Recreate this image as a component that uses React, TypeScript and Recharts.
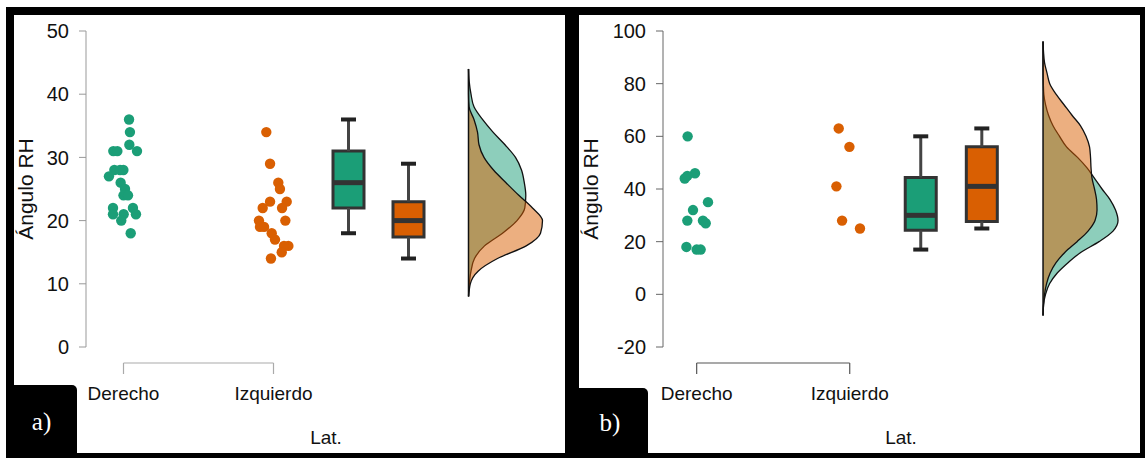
import React from 'react';
import {
  ComposedChart,
  Scatter,
  Area,
  XAxis,
  YAxis,
  ReferenceArea,
  ReferenceLine,
  Label,
} from 'recharts';

const categories = ['Derecho', 'Izquierdo'];
const GREEN = '#1b9e77';
const ORANGE = '#d95f02';

// ---- panel a) ----
const aYTicks = [0, 10, 20, 30, 40, 50];
const aDerechoValues = [36, 34, 32, 31, 31, 31, 28, 28, 28, 27, 26, 25, 24, 24, 22, 22, 21, 21, 21, 20, 18];
const aDerechoJitter = [0.037, 0.043, 0.039, 0.09, -0.068, -0.041, -0.061, -0.023, -0.001, -0.097, -0.019, 0.01, 0.0, 0.03, -0.07, 0.063, -0.07, 0.083, 0.001, -0.015, 0.048];
const aIzquierdoValues = [34, 29, 26, 25, 23, 23, 22, 22, 20, 20, 19, 19, 18, 17, 16, 16, 15, 14];
const aIzquierdoJitter = [-0.048, -0.023, 0.032, 0.043, -0.023, 0.088, -0.072, 0.057, 0.079, -0.097, -0.09, -0.063, -0.012, 0.01, 0.099, 0.07, 0.055, -0.017];
const aDerechoBox = { min: 18, q1: 22, median: 26, q3: 31, max: 36 };
const aIzquierdoBox = { min: 14, q1: 17.4, median: 20, q3: 23, max: 29 };
const aDensityGrid = [8, 10, 12, 14, 16, 18, 20, 22, 24, 26, 28, 30, 32, 34, 36, 38, 40, 42, 44];
const aDerechoDensity = [0, 0.8, 2.5, 6, 16, 34, 48.5, 56.3, 57.3, 55.8, 53, 47, 36.5, 24.5, 14, 5.5, 2.5, 0.7, 0];
const aIzquierdoDensity = [0.2, 1.8, 9.6, 29, 57.7, 72, 74, 64, 50.3, 37.5, 25, 15.5, 10.5, 9, 5.5, 0.6, 0, 0, 0];

// ---- panel b) ----
const bYTicks = [-20, 0, 20, 40, 60, 80, 100];
const bDerechoValues = [60, 46, 45, 44, 35, 32, 28, 28, 27, 18, 17, 17];
const bDerechoJitter = [-0.059, -0.011, -0.061, -0.078, 0.074, -0.024, -0.061, 0.041, 0.059, -0.067, 0.0, 0.026];
const bIzquierdoValues = [63, 56, 41, 28, 25];
const bIzquierdoJitter = [-0.072, -0.002, -0.087, -0.05, 0.067];
const bDerechoBox = { min: 17, q1: 24.3, median: 30, q3: 44.4, max: 60 };
const bIzquierdoBox = { min: 25, q1: 27.7, median: 41, q3: 56, max: 63 };
const bDensityGrid = [-8, -4, 0, 4, 8, 12, 16, 20, 24, 28, 32, 36, 40, 44, 48, 52, 56, 60, 64, 68, 72, 76, 80, 84, 88, 92, 96];
const bDerechoDensity = [0, 0.5, 2.5, 6.5, 14, 25, 38, 56, 70, 75, 72.5, 67, 59, 51.5, 44, 34.5, 23.5, 16.5, 10, 5.5, 2.5, 0.8, 0.3, 0.1, 0, 0, 0];
const bIzquierdoDensity = [0, 0.5, 1.5, 3.5, 7, 13, 22, 34, 45, 52, 54, 53.5, 51.5, 49, 48, 47.5, 46.5, 43, 37.5, 29, 21, 13, 6.7, 4, 1.5, 0.5, 0];

type Box = { min: number; q1: number; median: number; q3: number; max: number };

const CHART_H = 458;
const PLOT_TOP = 31;
const PLOT_BOTTOM = 347;
const X_AXIS_H = 106;
const MARGIN = { top: PLOT_TOP, right: 6, bottom: CHART_H - PLOT_BOTTOM - X_AXIS_H, left: 0 };
const FONT = '"Liberation Sans", Arial, sans-serif';

interface PanelProps {
  left: number;
  width: number;
  yAxisWidth: number;
  yDomain: [number, number];
  yTicks: number[];
  xDomain: [number, number];
  axisColor: string;
  bracketColor: string;
  titleOffset: number;
  derecho: { values: number[]; jitter: number[] };
  izquierdo: { values: number[]; jitter: number[] };
  boxes: Box[];
  boxPos: number[];
  densityPos: number;
  densityGrid: number[];
  derechoDensity: number[];
  izquierdoDensity: number[];
}

const dot = (color: string) => (props: any) =>
  <circle cx={props.cx} cy={props.cy} r={5.2} fill={color} />;

const Panel: React.FC<PanelProps> = (p) => {
  const plotWidth = p.width - p.yAxisWidth - MARGIN.right;
  const pxX = plotWidth / (p.xDomain[1] - p.xDomain[0]);
  const pxY = (PLOT_BOTTOM - PLOT_TOP) / (p.yDomain[1] - p.yDomain[0]);
  const boxHalf = 15.5 / pxX;
  const capHalf = 7.5 / pxX;
  const bracketY = p.yDomain[0] - 16 / pxY;
  const bracketEnd = p.yDomain[0] - 27 / pxY;

  const rows = p.densityGrid.map((v, i) => ({
    v,
    der: p.derechoDensity[i],
    izq: p.izquierdoDensity[i],
  }));
  const derPts = p.derecho.values.map((v, i) => ({ x: 1 + p.derecho.jitter[i], v }));
  const izqPts = p.izquierdo.values.map((v, i) => ({ x: 2 + p.izquierdo.jitter[i], v }));
  const colors = [GREEN, ORANGE];

  return (
    <div style={{ position: 'absolute', left: p.left, top: 0 }}>
      <ComposedChart
        width={p.width}
        height={CHART_H}
        data={rows}
        layout="vertical"
        margin={MARGIN}
      >
        <XAxis
          type="number"
          dataKey="x"
          domain={p.xDomain}
          ticks={[1, 2]}
          interval={0}
          tickFormatter={(t) => categories[Math.round(t) - 1]}
          axisLine={false}
          tickLine={false}
          tickSize={0}
          tickMargin={40}
          height={X_AXIS_H}
          tick={{ fontSize: 19, fill: '#111' }}
        >
          <Label value="Lat." position="insideBottom" offset={9} style={{ fontSize: 19, fill: '#111' }} />
        </XAxis>
        <YAxis
          type="number"
          dataKey="v"
          reversed
          domain={p.yDomain}
          ticks={p.yTicks}
          interval={0}
          width={p.yAxisWidth}
          tickSize={7}
          tickMargin={10}
          axisLine={{ stroke: p.axisColor }}
          tickLine={{ stroke: p.axisColor }}
          tick={{ fontSize: 20, fill: '#111' }}
        >
          <Label
            value="Ángulo RH"
            angle={-90}
            position="insideLeft"
            offset={p.titleOffset}
            style={{ textAnchor: 'middle', fontSize: 21, fill: '#111' }}
          />
        </YAxis>

        {/* category bracket under the plot */}
        <ReferenceLine
          segment={[{ x: 1, y: bracketY }, { x: 2, y: bracketY }]}
          stroke={p.bracketColor}
          strokeWidth={1.2}
          ifOverflow="visible"
        />
        {[1, 2].map((c) => (
          <ReferenceLine
            key={'bt' + c}
            segment={[{ x: c, y: bracketY }, { x: c, y: bracketEnd }]}
            stroke={p.bracketColor}
            strokeWidth={1.2}
            ifOverflow="visible"
          />
        ))}

        <Scatter data={derPts} shape={dot(GREEN)} isAnimationActive={false} />
        <Scatter data={izqPts} shape={dot(ORANGE)} isAnimationActive={false} />

        {/* box plots */}
        {p.boxes.map((b, i) => {
          const pos = p.boxPos[i];
          return [
            <ReferenceLine key={'wu' + i} segment={[{ x: pos, y: b.q3 }, { x: pos, y: b.max }]} stroke="#444" strokeWidth={3} />,
            <ReferenceLine key={'wl' + i} segment={[{ x: pos, y: b.min }, { x: pos, y: b.q1 }]} stroke="#444" strokeWidth={3} />,
            <ReferenceLine key={'cu' + i} segment={[{ x: pos - capHalf, y: b.max }, { x: pos + capHalf, y: b.max }]} stroke="#222" strokeWidth={4} />,
            <ReferenceLine key={'cl' + i} segment={[{ x: pos - capHalf, y: b.min }, { x: pos + capHalf, y: b.min }]} stroke="#222" strokeWidth={4} />,
            <ReferenceArea
              key={'bx' + i}
              x1={pos - boxHalf}
              x2={pos + boxHalf}
              y1={b.q1}
              y2={b.q3}
              fill={colors[i]}
              fillOpacity={1}
              stroke="#333"
              strokeWidth={3}
            />,
            <ReferenceLine key={'md' + i} segment={[{ x: pos - boxHalf, y: b.median }, { x: pos + boxHalf, y: b.median }]} stroke="#333" strokeWidth={5} />,
          ];
        })}

        {/* half violins */}
        <Area
          type="monotone"
          dataKey={(r: any) => p.densityPos + r.der / pxX}
          baseValue={p.densityPos}
          stroke="#111"
          strokeWidth={1.3}
          fill={GREEN}
          fillOpacity={0.5}
          isAnimationActive={false}
        />
        <Area
          type="monotone"
          dataKey={(r: any) => p.densityPos + r.izq / pxX}
          baseValue={p.densityPos}
          stroke="#111"
          strokeWidth={1.3}
          fill={ORANGE}
          fillOpacity={0.5}
          isAnimationActive={false}
        />
        <ReferenceLine
          segment={[
            { x: p.densityPos, y: p.densityGrid[0] },
            { x: p.densityPos, y: p.densityGrid[p.densityGrid.length - 1] },
          ]}
          stroke="#111"
          strokeWidth={1.5}
        />
      </ComposedChart>
    </div>
  );
};

const frame = (left: number, width: number, bw: string): React.CSSProperties => ({
  position: 'absolute',
  left,
  top: 7,
  width,
  height: 451,
  boxSizing: 'border-box',
  borderStyle: 'solid',
  borderColor: '#000',
  borderWidth: bw,
  background: '#fff',
});

const tag = (left: number, top: number, width: number): React.CSSProperties => ({
  position: 'absolute',
  left,
  top,
  width,
  height: 458 - top,
  background: '#000',
  borderTopRightRadius: 5,
  color: '#fff',
  fontFamily: '"Liberation Serif", "Times New Roman", serif',
  fontSize: 25,
  display: 'flex',
  alignItems: 'center',
  justifyContent: 'center',
});

export default function App() {
  return (
    <div
      style={{
        position: 'absolute',
        left: 0,
        top: 0,
        width: 1145,
        height: 458,
        background: '#fff',
        fontFamily: FONT,
        overflow: 'hidden',
      }}
    >
      <div style={frame(6, 566, '8px 7px 5px 8px')} />
      <div style={frame(572, 573, '8px 5px 5px 7px')} />

      <Panel
        left={0}
        width={572}
        yAxisWidth={86}
        yDomain={[0, 50]}
        yTicks={aYTicks}
        xDomain={[0.75, 3.95]}
        axisColor="#999"
        bracketColor="#aaa"
        titleOffset={26}
        derecho={{ values: aDerechoValues, jitter: aDerechoJitter }}
        izquierdo={{ values: aIzquierdoValues, jitter: aIzquierdoJitter }}
        boxes={[aDerechoBox, aIzquierdoBox]}
        boxPos={[2.5, 2.9]}
        densityPos={3.3}
        densityGrid={aDensityGrid}
        derechoDensity={aDerechoDensity}
        izquierdoDensity={aIzquierdoDensity}
      />
      <Panel
        left={572}
        width={573}
        yAxisWidth={91}
        yDomain={[-20, 100]}
        yTicks={bYTicks}
        xDomain={[0.78, 3.89]}
        axisColor="#666"
        bracketColor="#555"
        titleOffset={19}
        derecho={{ values: bDerechoValues, jitter: bDerechoJitter }}
        izquierdo={{ values: bIzquierdoValues, jitter: bIzquierdoJitter }}
        boxes={[bDerechoBox, bIzquierdoBox]}
        boxPos={[2.464, 2.863]}
        densityPos={3.263}
        densityGrid={bDensityGrid}
        derechoDensity={bDerechoDensity}
        izquierdoDensity={bIzquierdoDensity}
      />

      <div style={tag(6, 385, 71)}>a)</div>
      <div style={tag(572, 388, 76)}>b)</div>
    </div>
  );
}
